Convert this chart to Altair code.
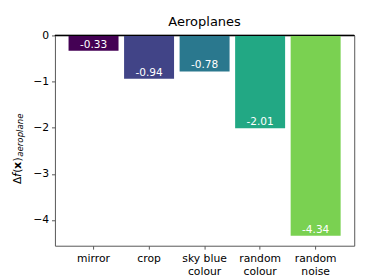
import altair as alt
import pandas as pd

categories = ["mirror", "crop", "sky blue\ncolour", "random\ncolour", "random\nnoise"]
values = [-0.33, -0.94, -0.78, -2.01, -4.34]
bar_labels = ["-0.33", "-0.94", "-0.78", "-2.01", "-4.34"]
colors = ["#440154", "#414487", "#2a788e", "#22a884", "#7ad151"]
y_ticks = [0, -1, -2, -3, -4]
y_domain = [-4.557, 0]
y_title_main = "Δ𝘧(𝘅)"
y_title_sub = "aeroplane"

df = pd.DataFrame({"cat": categories, "val": values, "label": bar_labels})

x_enc = alt.X(
    "cat:N",
    sort=categories,
    scale=alt.Scale(paddingInner=0.1, paddingOuter=0.245),
    axis=alt.Axis(
        title=None,
        labelAngle=0,
        labelExpr="split(datum.label, '\\n')",
        labelFontSize=11,
        labelColor="black",
        labelPadding=4,
        labelLineHeight=12.5,
        tickColor="#555555",
        tickSize=3.5,
        domain=False,
        grid=False,
    ),
)

y_enc = alt.Y(
    "val:Q",
    scale=alt.Scale(domain=y_domain, nice=False, zero=False),
    axis=alt.Axis(
        values=y_ticks,
        title=None,
        labelFontSize=11,
        labelColor="black",
        labelPadding=3,
        tickColor="#555555",
        tickSize=3.5,
        domain=False,
        grid=False,
    ),
)

base = alt.Chart(df)

bars = base.mark_bar().encode(
    x=x_enc,
    y=y_enc,
    y2=alt.datum(0),
    color=alt.Color("cat:N", scale=alt.Scale(domain=categories, range=colors), legend=None),
)

texts = base.mark_text(color="white", baseline="middle", dy=-6, fontSize=10.8).encode(
    x=alt.X("cat:N", sort=categories),
    y=alt.Y("val:Q"),
    text="label:N",
)

zero = base.mark_rule(color="black", strokeWidth=1).encode(y=alt.datum(0))

title_df = pd.DataFrame({"t": [y_title_main]})
sub_df = pd.DataFrame({"t": [y_title_sub]})

ytitle_main = alt.Chart(title_df).mark_text(
    angle=270, align="left", baseline="alphabetic", fontSize=11, color="black"
).encode(x=alt.value(-34.5), y=alt.value(152), text="t:N")

ytitle_sub = alt.Chart(sub_df).mark_text(
    angle=270, align="left", baseline="alphabetic", fontSize=8.8, fontStyle="italic", color="black"
).encode(x=alt.value(-32.5), y=alt.value(124), text="t:N")

chart = (
    alt.layer(bars, texts, zero, ytitle_main, ytitle_sub)
    .properties(
        width=306,
        height=215,
        title=alt.TitleParams(
            "Aeroplanes",
            fontSize=13.3,
            fontWeight="normal",
            color="black",
            offset=1,
        ),
        autosize=alt.AutoSizeParams(type="none"),
        padding={"left": 48, "top": 25, "right": 11, "bottom": 32},
    )
    .configure(font="DejaVu Sans")
    .configure_view(stroke="#555555", strokeWidth=1)
)

chart.save("out.html", embed_options={"renderer": "svg", "actions": False})
